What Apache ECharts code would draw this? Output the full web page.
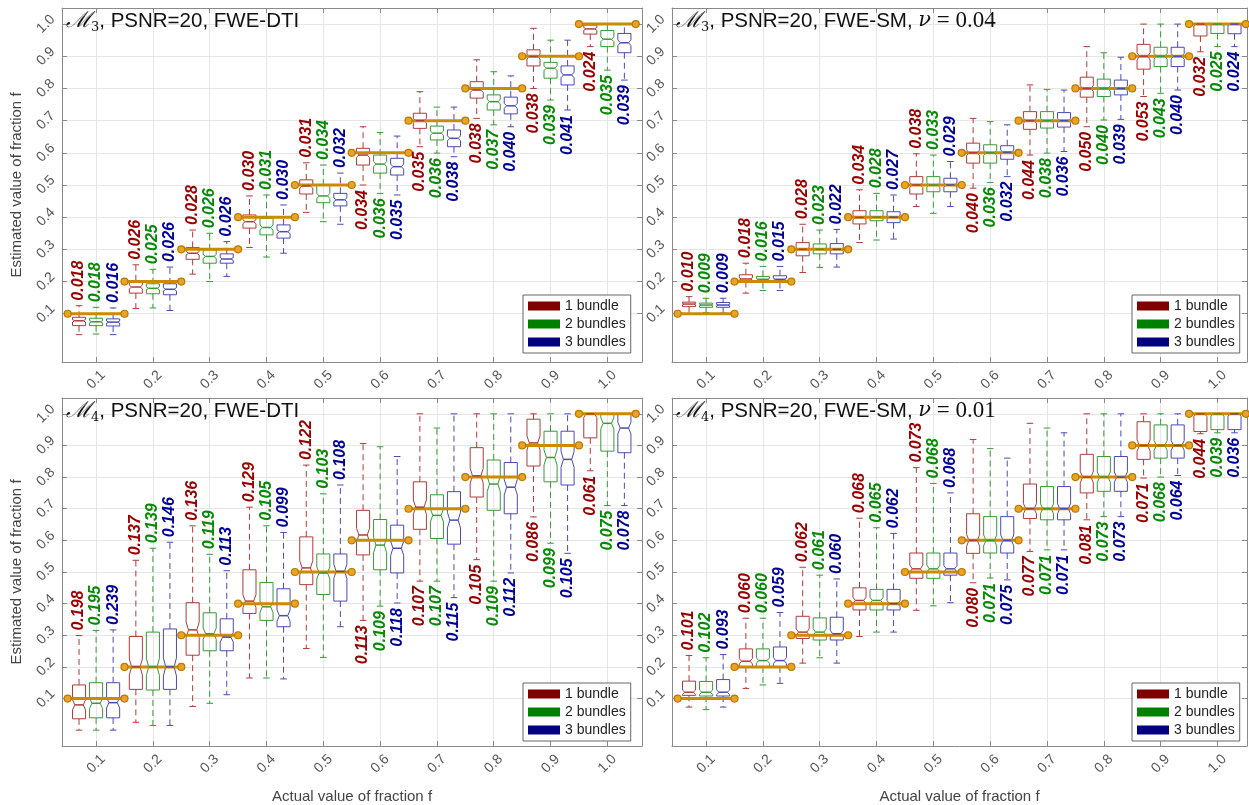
<!DOCTYPE html>
<html>
<head>
<meta charset="utf-8">
<title>Estimated vs actual fraction</title>
<script src="https://cdn.jsdelivr.net/npm/echarts@6/dist/echarts.min.js"></script>
<style>
html, body { margin: 0; padding: 0; background: #fff; }
#chart { width: 1249px; height: 805px; }
</style>
</head>
<body>
<div id="chart"></div>
<script>
// categories (actual fraction) and y tick values
const fractions = ['0.1', '0.2', '0.3', '0.4', '0.5', '0.6', '0.7', '0.8', '0.9', '1.0'];
const yTicks = [0.1, 0.2, 0.3, 0.4, 0.5, 0.6, 0.7, 0.8, 0.9, 1.0];
const bundleNames = ['1 bundle', '2 bundles', '3 bundles'];
// where the std label sits: above upper whisker or below lower whisker
const labelSide = ['up', 'up', 'up', 'up', 'up', 'down', 'down', 'down', 'down', 'down'];

// rows: [lower whisker, q1, median, q3, upper whisker]
// M3, FWE-DTI
const m3Dti1 = [
    [0.035, 0.063, 0.078, 0.089, 0.125], [0.116, 0.164, 0.183, 0.202, 0.252],
    [0.223, 0.269, 0.288, 0.306, 0.360], [0.306, 0.366, 0.386, 0.407, 0.466],
    [0.415, 0.472, 0.497, 0.516, 0.569], [0.500, 0.562, 0.593, 0.614, 0.681],
    [0.619, 0.676, 0.700, 0.723, 0.790], [0.707, 0.770, 0.795, 0.821, 0.889],
    [0.800, 0.870, 0.899, 0.920, 0.987], [0.930, 0.969, 0.985, 0.997, 1.000]
];
const m3Dti2 = [
    [0.037, 0.063, 0.075, 0.086, 0.120], [0.118, 0.162, 0.179, 0.193, 0.238],
    [0.200, 0.257, 0.278, 0.298, 0.350], [0.276, 0.345, 0.368, 0.397, 0.469],
    [0.386, 0.445, 0.466, 0.500, 0.562], [0.474, 0.537, 0.565, 0.593, 0.663],
    [0.599, 0.640, 0.661, 0.683, 0.742], [0.687, 0.733, 0.759, 0.780, 0.852],
    [0.764, 0.832, 0.863, 0.881, 0.950], [0.857, 0.930, 0.953, 0.980, 1.000]
];
const m3Dti3 = [
    [0.035, 0.062, 0.074, 0.084, 0.118], [0.110, 0.159, 0.176, 0.193, 0.245],
    [0.216, 0.257, 0.270, 0.286, 0.324], [0.288, 0.335, 0.355, 0.376, 0.438],
    [0.378, 0.435, 0.454, 0.474, 0.537], [0.469, 0.531, 0.557, 0.583, 0.652],
    [0.588, 0.619, 0.645, 0.671, 0.742], [0.681, 0.721, 0.746, 0.773, 0.839],
    [0.733, 0.811, 0.842, 0.870, 0.950], [0.826, 0.911, 0.942, 0.971, 1.000]
];
const m3DtiStd1 = ['0.018', '0.026', '0.028', '0.030', '0.031', '0.034', '0.035', '0.038', '0.038', '0.024'];
const m3DtiStd2 = ['0.018', '0.025', '0.026', '0.031', '0.034', '0.036', '0.036', '0.037', '0.039', '0.035'];
const m3DtiStd3 = ['0.016', '0.026', '0.026', '0.030', '0.032', '0.035', '0.038', '0.040', '0.041', '0.039'];

// M3, FWE-SM
const m3Sm1 = [
    [0.100, 0.122, 0.130, 0.136, 0.153], [0.164, 0.200, 0.208, 0.221, 0.257],
    [0.228, 0.280, 0.300, 0.321, 0.378], [0.321, 0.379, 0.399, 0.420, 0.485],
    [0.433, 0.472, 0.500, 0.526, 0.597], [0.490, 0.568, 0.600, 0.630, 0.707],
    [0.593, 0.673, 0.700, 0.728, 0.811], [0.681, 0.773, 0.800, 0.835, 0.930],
    [0.775, 0.860, 0.900, 0.937, 1.000], [0.914, 0.963, 1.000, 1.000, 1.000]
];
const m3Sm2 = [
    [0.104, 0.120, 0.127, 0.133, 0.148], [0.172, 0.197, 0.207, 0.216, 0.247],
    [0.244, 0.286, 0.300, 0.317, 0.360], [0.329, 0.389, 0.400, 0.420, 0.474],
    [0.412, 0.479, 0.500, 0.526, 0.593], [0.508, 0.568, 0.600, 0.625, 0.697],
    [0.599, 0.677, 0.700, 0.728, 0.797], [0.702, 0.775, 0.800, 0.829, 0.911],
    [0.785, 0.868, 0.900, 0.928, 1.000], [0.930, 0.971, 1.000, 1.000, 1.000]
];
const m3Sm3 = [
    [0.102, 0.120, 0.127, 0.135, 0.148], [0.172, 0.197, 0.207, 0.218, 0.247],
    [0.245, 0.286, 0.300, 0.318, 0.362], [0.332, 0.383, 0.400, 0.417, 0.469],
    [0.433, 0.479, 0.500, 0.521, 0.573], [0.526, 0.580, 0.602, 0.622, 0.687],
    [0.604, 0.680, 0.700, 0.725, 0.795], [0.704, 0.780, 0.800, 0.826, 0.897],
    [0.795, 0.868, 0.900, 0.928, 1.000], [0.930, 0.970, 1.000, 1.000, 1.000]
];
const m3SmStd1 = ['0.010', '0.018', '0.028', '0.034', '0.038', '0.040', '0.044', '0.050', '0.053', '0.032'];
const m3SmStd2 = ['0.009', '0.016', '0.023', '0.028', '0.033', '0.036', '0.038', '0.040', '0.043', '0.025'];
const m3SmStd3 = ['0.009', '0.015', '0.022', '0.027', '0.029', '0.032', '0.036', '0.039', '0.040', '0.024'];

// M4, FWE-DTI
const m4Dti1 = [
    [0.000, 0.036, 0.080, 0.143, 0.299], [0.025, 0.129, 0.200, 0.296, 0.537],
    [0.075, 0.237, 0.317, 0.403, 0.646], [0.165, 0.369, 0.408, 0.507, 0.705],
    [0.258, 0.460, 0.513, 0.611, 0.838], [0.347, 0.554, 0.617, 0.695, 0.906],
    [0.471, 0.635, 0.705, 0.785, 1.000], [0.539, 0.737, 0.804, 0.893, 1.000],
    [0.674, 0.835, 0.908, 0.983, 1.000], [0.820, 0.924, 1.000, 1.000, 1.000]
];
const m4Dti2 = [
    [0.000, 0.039, 0.085, 0.150, 0.315], [0.015, 0.127, 0.200, 0.310, 0.575],
    [0.085, 0.251, 0.305, 0.371, 0.556], [0.165, 0.347, 0.390, 0.467, 0.646],
    [0.230, 0.429, 0.497, 0.557, 0.747], [0.392, 0.507, 0.585, 0.666, 0.896],
    [0.471, 0.606, 0.679, 0.744, 0.955], [0.471, 0.695, 0.778, 0.854, 1.000],
    [0.591, 0.785, 0.862, 0.945, 1.000], [0.710, 0.882, 0.970, 1.000, 1.000]
];
const m4Dti3 = [
    [0.000, 0.039, 0.087, 0.150, 0.317], [0.015, 0.129, 0.200, 0.320, 0.594],
    [0.112, 0.251, 0.294, 0.352, 0.504], [0.162, 0.327, 0.362, 0.447, 0.625],
    [0.327, 0.408, 0.502, 0.557, 0.775], [0.402, 0.497, 0.575, 0.648, 0.865],
    [0.419, 0.588, 0.664, 0.754, 1.000], [0.497, 0.684, 0.768, 0.846, 1.000],
    [0.559, 0.775, 0.856, 0.945, 1.000], [0.710, 0.877, 0.955, 1.000, 1.000]
];
const m4DtiStd1 = ['0.198', '0.137', '0.136', '0.129', '0.122', '0.113', '0.107', '0.105', '0.086', '0.061'];
const m4DtiStd2 = ['0.195', '0.139', '0.119', '0.105', '0.103', '0.109', '0.107', '0.109', '0.099', '0.075'];
const m4DtiStd3 = ['0.239', '0.146', '0.113', '0.099', '0.108', '0.118', '0.115', '0.112', '0.105', '0.078'];

// M4, FWE-SM
const m4Sm1 = [
    [0.073, 0.110, 0.120, 0.155, 0.236], [0.132, 0.200, 0.218, 0.257, 0.354],
    [0.212, 0.290, 0.310, 0.360, 0.515], [0.296, 0.380, 0.410, 0.450, 0.670],
    [0.379, 0.480, 0.510, 0.560, 0.830], [0.466, 0.559, 0.600, 0.684, 0.919],
    [0.565, 0.669, 0.700, 0.778, 0.970], [0.665, 0.750, 0.800, 0.872, 1.000],
    [0.797, 0.856, 0.900, 0.975, 1.000], [0.937, 0.944, 1.000, 1.000, 1.000]
];
const m4Sm2 = [
    [0.065, 0.108, 0.120, 0.154, 0.229], [0.143, 0.200, 0.220, 0.257, 0.354],
    [0.229, 0.285, 0.310, 0.355, 0.490], [0.310, 0.380, 0.410, 0.445, 0.640],
    [0.393, 0.480, 0.510, 0.560, 0.780], [0.481, 0.560, 0.600, 0.675, 0.890],
    [0.570, 0.665, 0.700, 0.770, 0.955], [0.675, 0.755, 0.800, 0.865, 1.000],
    [0.800, 0.860, 0.900, 0.965, 1.000], [0.940, 0.950, 1.000, 1.000, 1.000]
];
const m4Sm3 = [
    [0.073, 0.108, 0.120, 0.160, 0.239], [0.148, 0.200, 0.220, 0.263, 0.372],
    [0.212, 0.285, 0.305, 0.357, 0.478], [0.310, 0.380, 0.400, 0.445, 0.622],
    [0.403, 0.490, 0.510, 0.560, 0.750], [0.475, 0.560, 0.600, 0.675, 0.860],
    [0.570, 0.665, 0.700, 0.770, 0.940], [0.675, 0.755, 0.800, 0.865, 1.000],
    [0.805, 0.860, 0.900, 0.965, 1.000], [0.940, 0.950, 1.000, 1.000, 1.000]
];
const m4SmStd1 = ['0.101', '0.060', '0.062', '0.068', '0.073', '0.080', '0.077', '0.081', '0.071', '0.044'];
const m4SmStd2 = ['0.102', '0.060', '0.061', '0.065', '0.068', '0.071', '0.071', '0.073', '0.068', '0.039'];
const m4SmStd3 = ['0.093', '0.059', '0.060', '0.062', '0.068', '0.075', '0.071', '0.073', '0.064', '0.036'];

const boxColors = ['#b23a3a', '#379a37', '#4a4ab6'];
const labelColors = ['#990000', '#068a06', '#00009a'];
const legendColors = ['#800000', '#008000', '#000080'];
const bundleOffset = [-0.3, 0, 0.3];
const boxWidth = 0.23;
const notchK = 0.15;
const sansFont = '"Liberation Sans", Arial, Helvetica, sans-serif';

const panels = [
    {
        grid: { left: 62, top: 8, width: 580, height: 354 },
        xMax: 10.61, boxes: [m3Dti1, m3Dti2, m3Dti3], stds: [m3DtiStd1, m3DtiStd2, m3DtiStd3],
        title: '{m|ℳ}{s|3}{t|, PSNR=20, FWE-DTI}', yName: 'Estimated value of fraction f', xName: '',
        legend: { left: 523, top: 295 }
    },
    {
        grid: { left: 672, top: 8, width: 575, height: 354 },
        xMax: 10.52, boxes: [m3Sm1, m3Sm2, m3Sm3], stds: [m3SmStd1, m3SmStd2, m3SmStd3],
        title: '{m|ℳ}{s|3}{t|, PSNR=20, FWE-SM, }{n|ν}{e| = 0.04}', yName: '', xName: '',
        legend: { left: 1132, top: 295 }
    },
    {
        grid: { left: 62, top: 398, width: 580, height: 352 },
        xMax: 10.61, boxes: [m4Dti1, m4Dti2, m4Dti3], stds: [m4DtiStd1, m4DtiStd2, m4DtiStd3],
        title: '{m|ℳ}{s|4}{t|, PSNR=20, FWE-DTI}', yName: 'Estimated value of fraction f', xName: 'Actual value of fraction f',
        legend: { left: 523, top: 683 }
    },
    {
        grid: { left: 672, top: 398, width: 575, height: 352 },
        xMax: 10.52, boxes: [m4Sm1, m4Sm2, m4Sm3], stds: [m4SmStd1, m4SmStd2, m4SmStd3],
        title: '{m|ℳ}{s|4}{t|, PSNR=20, FWE-SM, }{n|ν}{e| = 0.01}', yName: '', xName: 'Actual value of fraction f',
        legend: { left: 1132, top: 683 }
    }
];

const xTickPos = fractions.map((f, i) => i + 1);

function makeBoxRenderer(stats, stds, b) {
    return function (params, api) {
        const i = params.dataIndex;
        const s = stats[i];
        const x = api.value(0);
        const py = (v) => api.coord([x, v])[1];
        const cx = api.coord([x, s[2]])[0];
        const yLo = py(s[0]), yQ1 = py(s[1]), yMed = py(s[2]), yQ3 = py(s[3]), yHi = py(s[4]);
        const iqr = s[3] - s[1];
        const yNHi = py(Math.min(s[3], s[2] + notchK * iqr));
        const yNLo = py(Math.max(s[1], s[2] - notchK * iqr));
        const bw = api.size([boxWidth, 0])[0];
        const h = bw / 2, cap = bw / 4, inset = bw * 0.18;
        const col = boxColors[b];
        const pts = [
            [cx - h, yQ3], [cx + h, yQ3], [cx + h, yNHi], [cx + h - inset, yMed], [cx + h, yNLo],
            [cx + h, yQ1], [cx - h, yQ1], [cx - h, yNLo], [cx - h + inset, yMed], [cx - h, yNHi]
        ];
        const dashed = { stroke: col, lineWidth: 1, lineDash: [6, 4] };
        const solid = { stroke: col, lineWidth: 1 };
        const up = labelSide[i] === 'up';
        return {
            type: 'group',
            children: [
                { type: 'line', shape: { x1: cx, y1: yQ3, x2: cx, y2: yHi }, style: dashed },
                { type: 'line', shape: { x1: cx, y1: yQ1, x2: cx, y2: yLo }, style: dashed },
                { type: 'line', shape: { x1: cx - cap, y1: yHi, x2: cx + cap, y2: yHi }, style: solid },
                { type: 'line', shape: { x1: cx - cap, y1: yLo, x2: cx + cap, y2: yLo }, style: solid },
                { type: 'polygon', shape: { points: pts }, style: { fill: 'none', stroke: col, lineWidth: 1 } },
                {
                    type: 'line', z2: 20,
                    shape: { x1: cx - h + inset, y1: yMed, x2: cx + h - inset, y2: yMed },
                    style: { stroke: col, lineWidth: 1.5 }
                },
                {
                    type: 'text', z2: 30,
                    x: cx, y: up ? yHi - 5 : yLo + 5, rotation: Math.PI / 2,
                    style: {
                        text: stds[i], fill: labelColors[b],
                        font: 'italic bold 16px ' + sansFont,
                        align: up ? 'left' : 'right', verticalAlign: 'middle'
                    }
                }
            ]
        };
    };
}

function renderTruth(params, api) {
    const k = api.value(0), t = api.value(1);
    const a = api.coord([k - 0.5, t]);
    const b = api.coord([k + 0.5, t]);
    const dot = { fill: '#eaa423', stroke: '#b97800', lineWidth: 1.2 };
    return {
        type: 'group',
        children: [
            { type: 'line', z2: 10, shape: { x1: a[0], y1: a[1], x2: b[0], y2: b[1] }, style: { stroke: '#cc8a00', lineWidth: 3 } },
            { type: 'circle', z2: 11, shape: { cx: a[0], cy: a[1], r: 3.5 }, style: dot },
            { type: 'circle', z2: 11, shape: { cx: b[0], cy: b[1], r: 3.5 }, style: dot }
        ]
    };
}

const grid = [], xAxis = [], yAxis = [], series = [], legend = [], title = [];
const frameLine = { show: true, onZero: false, lineStyle: { color: '#8a8a8a', width: 1 } };

panels.forEach((p, g) => {
    grid.push(Object.assign({ containLabel: false }, p.grid));
    xAxis.push({
        type: 'value', gridIndex: g, min: 0.4, max: p.xMax, position: 'bottom',
        name: p.xName, nameLocation: 'middle', nameGap: 43,
        nameTextStyle: { fontSize: 15, color: '#444', fontFamily: sansFont },
        axisLine: frameLine,
        axisTick: { show: true, inside: true, length: 5, customValues: xTickPos, lineStyle: { color: '#8a8a8a' } },
        axisLabel: {
            customValues: xTickPos, rotate: 45, align: 'center', verticalAlign: 'middle', margin: 18,
            fontSize: 14, color: '#555', fontFamily: sansFont,
            formatter: (v) => fractions[Math.round(v) - 1]
        },
        splitLine: { show: true, lineStyle: { color: '#e6e6e6' } }
    });
    xAxis.push({
        type: 'value', gridIndex: g, min: 0.4, max: p.xMax, position: 'top',
        axisLine: frameLine,
        axisTick: { show: true, inside: true, length: 5, customValues: xTickPos, lineStyle: { color: '#8a8a8a' } },
        axisLabel: { show: false }, splitLine: { show: false }
    });
    yAxis.push({
        type: 'value', gridIndex: g, min: -0.05, max: 1.05, position: 'left',
        name: p.yName, nameLocation: 'middle', nameGap: 38,
        nameTextStyle: { fontSize: 15, color: '#444', fontFamily: sansFont },
        axisLine: frameLine,
        axisTick: { show: true, inside: true, length: 5, customValues: yTicks, lineStyle: { color: '#8a8a8a' } },
        axisLabel: {
            customValues: yTicks, rotate: 45, align: 'center', verticalAlign: 'middle', margin: 16,
            fontSize: 14, color: '#555', fontFamily: sansFont,
            formatter: (v) => v.toFixed(1)
        },
        splitLine: { show: true, lineStyle: { color: '#e6e6e6' } }
    });
    yAxis.push({
        type: 'value', gridIndex: g, min: -0.05, max: 1.05, position: 'right',
        axisLine: frameLine,
        axisTick: { show: true, inside: true, length: 5, customValues: yTicks, lineStyle: { color: '#8a8a8a' } },
        axisLabel: { show: false }, splitLine: { show: false }
    });

    p.boxes.forEach((stats, b) => {
        series.push({
            type: 'custom', name: bundleNames[b],
            xAxisIndex: 2 * g, yAxisIndex: 2 * g,
            itemStyle: { color: legendColors[b] },
            renderItem: makeBoxRenderer(stats, p.stds[b], b),
            encode: { x: 0, y: [1, 2, 3, 4, 5] },
            data: stats.map((s, i) => [i + 1 + bundleOffset[b]].concat(s)),
            silent: true
        });
    });
    series.push({
        type: 'custom', name: 'true fraction',
        xAxisIndex: 2 * g, yAxisIndex: 2 * g,
        renderItem: renderTruth,
        encode: { x: 0, y: 1 },
        data: fractions.map((f, i) => [i + 1, Number(f)]),
        silent: true
    });

    legend.push({
        left: p.legend.left, top: p.legend.top, orient: 'vertical',
        data: bundleNames, icon: 'rect', itemWidth: 32, itemHeight: 9, itemGap: 4,
        padding: [4, 5, 4, 5], borderColor: '#666', borderWidth: 1, backgroundColor: '#fff',
        selectedMode: false,
        textStyle: { fontSize: 14, color: '#222', fontFamily: sansFont }
    });

    title.push({
        text: p.title, left: p.grid.left + 4, top: p.grid.top, padding: 0,
        textStyle: {
            fontWeight: 'normal',
            rich: {
                m: { fontFamily: 'DejaVu Serif', fontStyle: 'italic', fontWeight: 'normal', fontSize: 22, color: '#111' },
                s: { fontFamily: 'DejaVu Serif', fontWeight: 'normal', fontSize: 13, color: '#111', verticalAlign: 'bottom', lineHeight: 26 },
                t: { fontFamily: sansFont, fontWeight: 'normal', fontSize: 20.5, color: '#111' },
                n: { fontFamily: 'DejaVu Serif', fontStyle: 'italic', fontWeight: 'normal', fontSize: 21, color: '#111' },
                e: { fontFamily: 'Liberation Serif', fontWeight: 'normal', fontSize: 23, color: '#111' }
            }
        }
    });
});

const chart = echarts.init(document.getElementById('chart'));
chart.setOption({
    animation: false,
    backgroundColor: '#fff',
    title: title,
    legend: legend,
    grid: grid,
    xAxis: xAxis,
    yAxis: yAxis,
    series: series
});
</script>
</body>
</html>
